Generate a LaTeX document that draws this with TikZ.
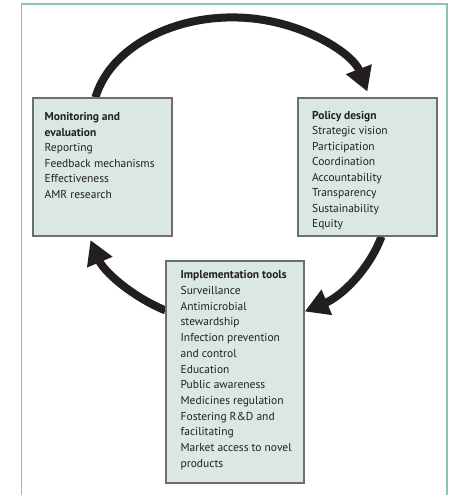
\documentclass[tikz,border=0pt]{standalone}
\usepackage{fontspec}
\setmainfont{PT Sans}
\usetikzlibrary{arrows.meta,backgrounds}
\definecolor{framegreen}{HTML}{8DC5A9}
\definecolor{boxfill}{HTML}{DAE8E1}
\definecolor{boxline}{HTML}{6D6E70}
\definecolor{arrowblack}{HTML}{231F20}
\definecolor{txt}{HTML}{231F20}
\tikzset{
  box/.style={draw=boxline, line width=1.1pt, fill=boxfill, inner sep=0pt},
  boxtext/.style={anchor=north west, align=left, inner sep=0pt, text=txt, font=\fontsize{11.5}{15.5}\selectfont},
  cyc/.style={draw=arrowblack, line width=8pt, -{Triangle[length=24pt,width=26pt]}},
  frameline/.style={draw=framegreen, line width=1.5pt}
}
\begin{document}
\begin{tikzpicture}[x=1pt,y=1pt]
\useasboundingbox (0,0) rectangle (449,495);
% boxes
\node[box, minimum width=139pt, minimum height=138pt] (M) at (102.5,328) {};
\node[box, minimum width=139pt, minimum height=138pt] (P) at (367.5,328) {};
\node[box, minimum width=138pt, minimum height=222pt] (I) at (235,123) {};
% texts
\node[boxtext] (Mt) at ([xshift=12pt,yshift=-15pt]M.north west)
  {\textbf{Monitoring and}\\\textbf{evaluation}\\Reporting\\Feedback mechanisms\\Effectiveness\\AMR research};
\node[boxtext] (Pt) at ([xshift=14.5pt,yshift=-13.5pt]P.north west)
  {\textbf{Policy design}\\Strategic vision\\Participation\\Coordination\\Accountability\\Transparency\\Sustainability\\Equity};
\node[boxtext, font=\fontsize{11.5}{15.7}\selectfont] (It) at ([xshift=15pt,yshift=-10pt]I.north west)
  {\textbf{Implementation tools}\\Surveillance\\Antimicrobial\\stewardship\\Infection prevention\\and control\\Education\\Public awareness\\Medicines regulation\\Fostering R\&D and\\facilitating\\Market access to novel\\products};
\begin{pgfonlayer}{background}
\draw[frameline] (21.5,0) -- (21.5,491) -- (447,491) -- (447,0);
\draw[cyc] ([xshift=63pt]M.north west) arc[start angle=168, end angle=15.4, x radius=140, y radius=101];
\draw[cyc] ([xshift=84pt]P.south west) arc[start angle=-16.8, end angle=-63, x radius=152.5, y radius=124.5];
\draw[cyc] ([yshift=-50pt]I.north west) arc[start angle=-117, end angle=-161, x radius=152.5, y radius=124.5];
\end{pgfonlayer}
\end{tikzpicture}
\end{document}
